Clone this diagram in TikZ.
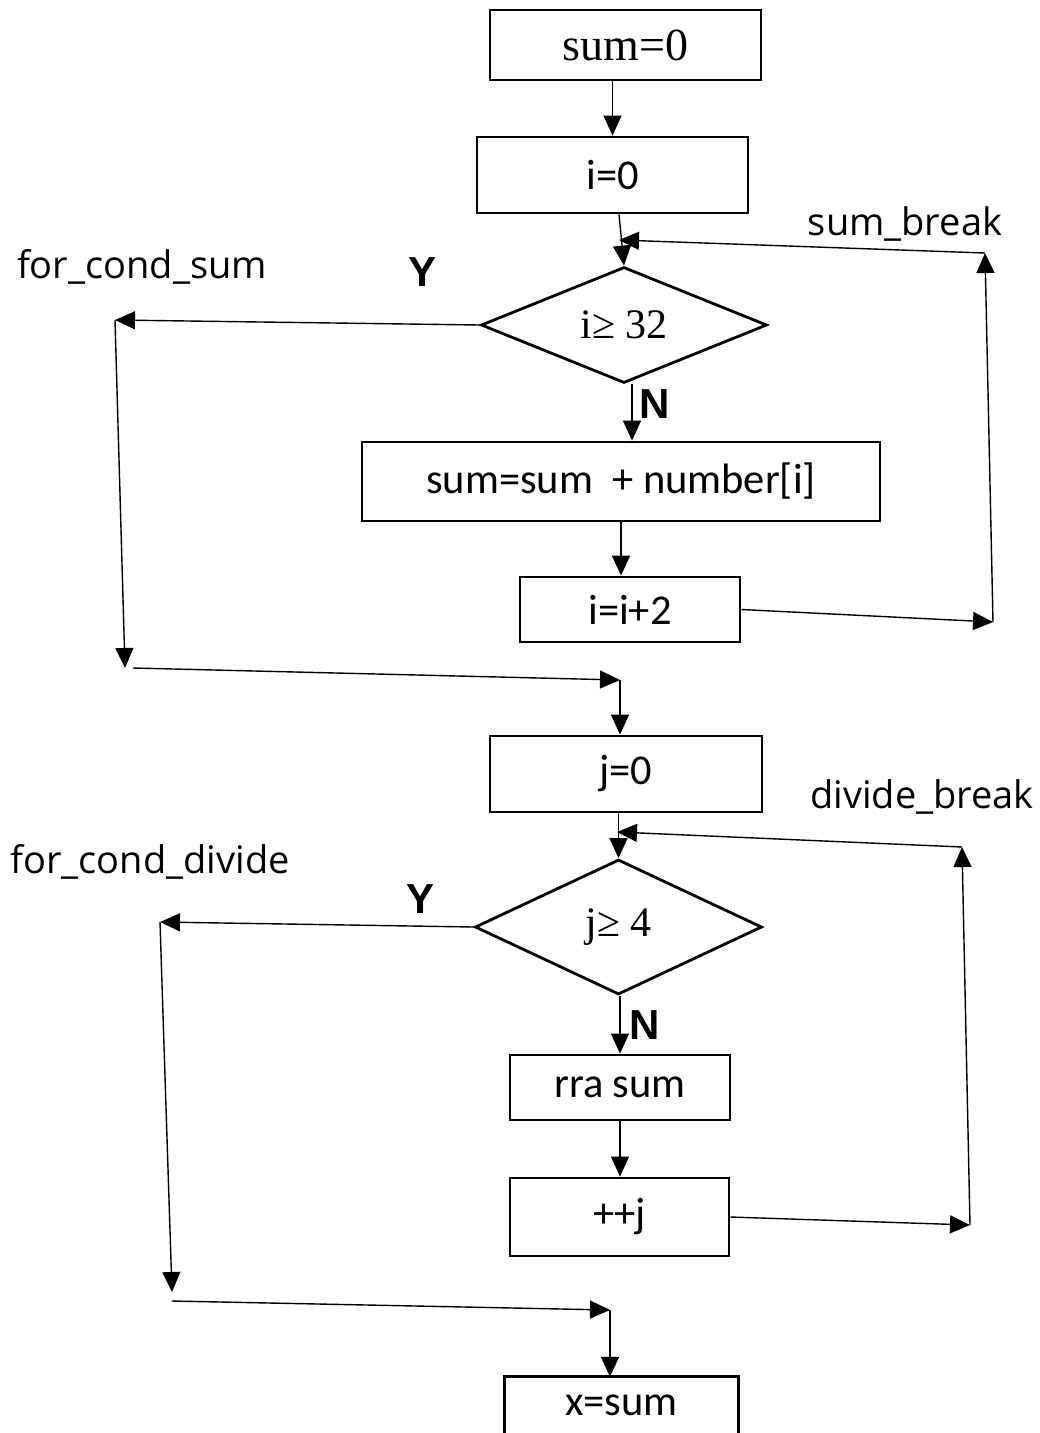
\documentclass[tikz,border=0pt]{standalone}
\usepackage{fontspec}
\setmainfont{Carlito}
\newfontfamily\serf{Liberation Serif}
\newfontfamily\labf{Open Sans}
\newfontfamily\ynf{Liberation Sans}
\usetikzlibrary{shapes.geometric,arrows.meta}
\begin{document}
\begin{tikzpicture}[x=1pt,y=-1pt,
  box/.style={draw, line width=2.8pt, rectangle, inner sep=0pt, font=\fontsize{42.5}{50}\selectfont},
  dia/.style={draw, diamond, line width=2.8pt, inner sep=0pt, font=\serf\fontsize{42}{50}\selectfont},
  arr/.style={-{Triangle[length=20pt,width=18pt]}, line width=1.4pt},
  lbl/.style={font=\labf\fontsize{38}{46}\selectfont, inner sep=0pt},
  yn/.style={font=\ynf\bfseries\fontsize{42}{50}\selectfont, inner sep=0pt}]
\useasboundingbox[fill=white] (0,0) rectangle (1040,1433);

% nodes
\node[box, minimum width=271pt, minimum height=70pt, font=\serf\fontsize{46}{54}\selectfont] (s0) at (625.5,45) {sum=0};
\node[box, minimum width=271pt, minimum height=76pt] (i0) at (612.5,175) {i=0};
\node[dia, minimum width=286pt, minimum height=116pt] (d1) at (624,325) {i≥ 32};
\node[box, minimum width=518pt, minimum height=79pt] (sb) at (621,481.5) {sum=sum\ \ + number[i]};
\node[box, minimum width=220pt, minimum height=65pt] (i2) at (630,609.5) {i=i+2};
\node[box, minimum width=272pt, minimum height=76pt] (j0) at (626,774) {j=0};
\node[dia, minimum width=287pt, minimum height=135pt] (d2) at (618.5,927) {j≥ 4};
\node[box, minimum width=220pt, minimum height=65pt] (rra) at (620,1087.5) {rra sum};
\node[box, minimum width=219pt, minimum height=78pt] (pj) at (619.5,1217) {++j};
\node[inner sep=0pt, minimum width=233pt, minimum height=56pt, font=\fontsize{42.5}{50}\selectfont] (xs) at (621.5,1405) {x=sum};
\draw[line width=2.8pt] (xs.south west) -- (xs.north west) -- (xs.north east) -- (xs.south east);

% labels
\node[lbl] (lfs) at (142,267) {for\_cond\_sum};
\node[lbl] (lsb) at (905,224) {sum\_break};
\node[lbl] (ldb) at (922,797) {divide\_break};
\node[lbl] (lfd) at (150,862) {for\_cond\_divide};
\node[yn] (y1) at (423,272) {Y};
\node[yn] (n1) at (655,404) {N};
\node[yn] (y2) at (421,899) {Y};
\node[yn] (n2) at (645,1025) {N};

% coordinates
\coordinate (c1) at (993,622);
\coordinate (c2) at (985,253);
\coordinate (c3) at (619,240);
\coordinate (a1) at (115,320);
\coordinate (a2) at (125,668);
\coordinate (a3) at (133,668);
\coordinate (a4) at (620,680);
\coordinate (e1) at (970,1225);
\coordinate (e2) at (962,847);
\coordinate (e3) at (617,832);
\coordinate (b1) at (160,922);
\coordinate (b2) at (172,1292);
\coordinate (b3) at (172,1301);
\coordinate (b4) at (610,1310);
\coordinate (nd1) at ([xshift=8pt]d1.south);

% main flow
\draw[arr] (s0.south -| i0.north) -- (i0.north);
\draw[arr] (i0.south -| c3) -- (d1.north);
\draw[arr] (nd1) -- (nd1 |- sb.north);
\draw[arr] (sb.south) -- (sb.south |- i2.north);
% sum loop
\draw[arr] (i2.east) -- (c1);
\draw[arr] (c1) -- (c2);
\draw[arr] (c2) -- (c3);
% Y branch 1
\draw[arr] (d1.west) -- (a1);
\draw[arr] (a1) -- (a2);
\draw[arr] (a3) -- (a4);
\draw[arr] (a4) -- (a4 |- j0.north);

\draw[arr] (j0.south -| d2.north) -- (d2.north);
\draw[arr] (d2.south -| rra.north) -- (rra.north);
\draw[arr] (rra.south) -- (rra.south |- pj.north);
% divide loop
\draw[arr] (pj.east) -- (e1);
\draw[arr] (e1) -- (e2);
\draw[arr] (e2) -- (e3);
% Y branch 2
\draw[arr] (d2.west) -- (b1);
\draw[arr] (b1) -- (b2);
\draw[arr] (b3) -- (b4);
\draw[arr] (b4) -- (b4 |- xs.north);
\end{tikzpicture}
\end{document}
